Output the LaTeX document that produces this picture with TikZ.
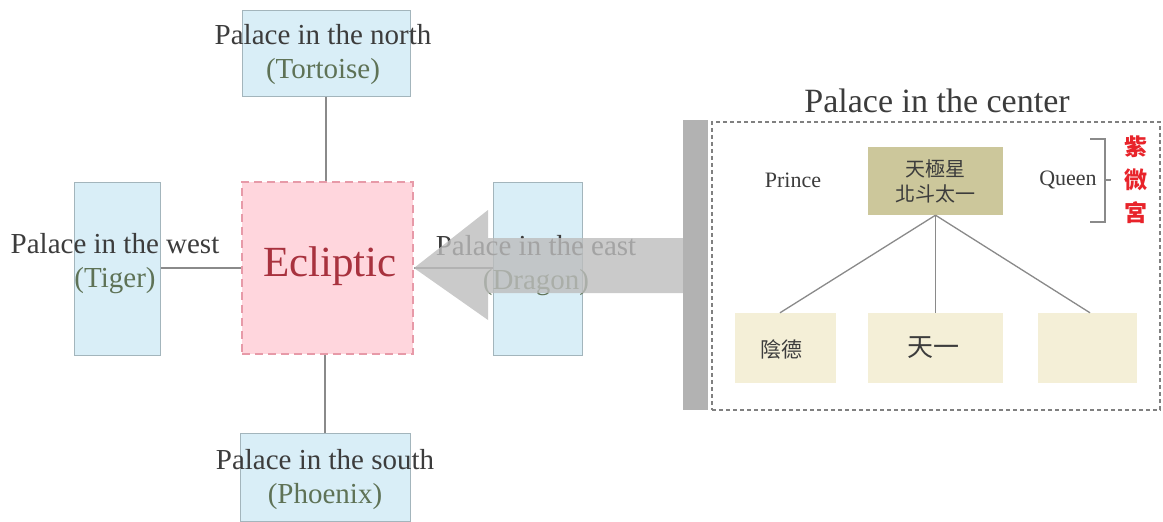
\documentclass[tikz,border=0pt]{standalone}
\usepackage{fontspec}
\setmainfont{Liberation Serif}
\newfontfamily\cjk{Noto Sans CJK TC}
\definecolor{palefill}{HTML}{D9EEF7}
\definecolor{paleedge}{HTML}{A3B5BC}
\definecolor{ink}{HTML}{3C3C3C}
\definecolor{beast}{HTML}{5E7256}
\definecolor{eclfill}{HTML}{FFD6DD}
\definecolor{ecledge}{HTML}{E79AA8}
\definecolor{eclink}{HTML}{A8323E}
\definecolor{arrowgray}{HTML}{BDBDBD}
\definecolor{bargray}{HTML}{B2B2B2}
\definecolor{khaki}{HTML}{CCC79B}
\definecolor{beige}{HTML}{F4EFD7}
\definecolor{seal}{HTML}{E8232A}
\definecolor{wire}{HTML}{8A8A8A}
\tikzset{
  palacebox/.style={draw=paleedge, line width=1pt, fill=palefill, inner sep=0pt},
  palacetext/.style={text=ink, font=\fontsize{29}{34}\selectfont, align=center, inner sep=0pt},
  wirestyle/.style={draw=wire, line width=1.3pt},
  starbox/.style={inner sep=0pt, minimum height=70pt},
  cjktext/.style={text=ink, font=\cjk\fontsize{20}{25}\selectfont, align=center, inner sep=0pt},
  small/.style={text=ink, font=\fontsize{22}{26}\selectfont, inner sep=0pt},
}
\begin{document}
\begin{tikzpicture}[x=1pt,y=-1pt]
\useasboundingbox (0,0) rectangle (1163,522);

% four palaces around the ecliptic
\node[palacebox, minimum width=168pt, minimum height=86pt] (north) at (326,53) {};
\node[palacebox, minimum width=86pt, minimum height=173pt] (west) at (117.5,268.5) {};
\node[palacebox, minimum width=170pt, minimum height=88pt] (south) at (325,477) {};
\node[palacebox, minimum width=89pt, minimum height=173pt] (east) at (537.5,268.5) {};
\node[draw=ecledge, fill=eclfill, line width=2pt, dash pattern=on 8pt off 5pt,
      minimum width=171pt, minimum height=172pt, inner sep=0pt] (ecl) at (327.5,268) {};
\node[text=eclink, font=\fontsize{43}{50}\selectfont, inner sep=0pt] (ecltext) at (330,266) {Ecliptic};

\draw[wirestyle] (north.south) -- (north.south |- ecl.north);
\draw[wirestyle] (south.north) -- (south.north |- ecl.south);
\draw[wirestyle] (west.east |- ecl.west) -- (ecl.west);
\draw[wirestyle] (east.west |- ecl.east) -- (ecl.east);

\node[palacetext] (northtxt) at (323,55) {Palace in the north\\{\color{beast}(Tortoise)}};
\node[palacetext] (westtxt) at (115,264) {Palace in the west\\{\color{beast}(Tiger)}};
\node[palacetext] (southtxt) at (325,480) {Palace in the south\\{\color{beast}(Phoenix)}};
\node[palacetext] (easttxt) at (536,266) {Palace in the east\\{\color{beast}(Dragon)}};

% central palace panel
\node[fill=bargray, minimum width=25pt, minimum height=290pt, inner sep=0pt] (bar) at (695.5,265) {};
\node[draw=gray, line width=1.6pt, dash pattern=on 4pt off 3pt, fill=white,
      minimum width=448pt, minimum height=288pt, inner sep=0pt] (frame) at (936,266) {};
\node[text=ink, font=\fontsize{34}{40}\selectfont, inner sep=0pt] (title) at (937,101) {Palace in the center};

% big arrow from the centre panel toward the ecliptic
\fill[arrowgray, fill opacity=0.8]
  (ecl.east) -- (488,210) -- (488,238) -- (bar.west |- 0,238) -- (bar.west |- 0,293)
  -- (488,293) -- (488,320) -- cycle;

\node[fill=khaki, minimum width=135pt, minimum height=68pt, inner sep=0pt] (pole) at (935.5,181) {};
\node[cjktext] (poletxt) at (935.5,181) {天極星\\北斗太一};
\node[small] (prince) at (793,180) {Prince};
\node[small] (queen) at (1068,180) {Queen};
\coordinate (brtop) at (1090,139);
\coordinate (brbot) at (1090,222);
\draw[wirestyle, line width=1.2pt] (brtop) -- (1105,139) -- (1105,222) -- (brbot);
\draw[wirestyle, line width=1.2pt] (1105,180) -- (1111,180);
\node[text=seal, font=\cjk\bfseries\fontsize{23}{33}\selectfont, align=center, inner sep=0pt] (ziwei) at (1136,180) {紫\\微\\宮};

\node[starbox, fill=beige, minimum width=101pt] (yinde) at (785.5,348) {};
\node[starbox, fill=beige, minimum width=135pt] (tianyi) at (935.5,348) {};
\node[starbox, fill=beige, minimum width=99pt] (third) at (1087.5,348) {};
\node[cjktext, font=\cjk\fontsize{21}{25}\selectfont] (yindetxt) at (781,349) {陰德};
\node[cjktext, font=\cjk\fontsize{26}{30}\selectfont] (tianyitxt) at (933,348) {天一};

\draw[wirestyle] (pole.south) -- (yinde.north -| 780,0);
\draw[wirestyle] (pole.south) -- (tianyi.north);
\draw[wirestyle] (pole.south) -- (third.north -| 1090,0);
\end{tikzpicture}
\end{document}
